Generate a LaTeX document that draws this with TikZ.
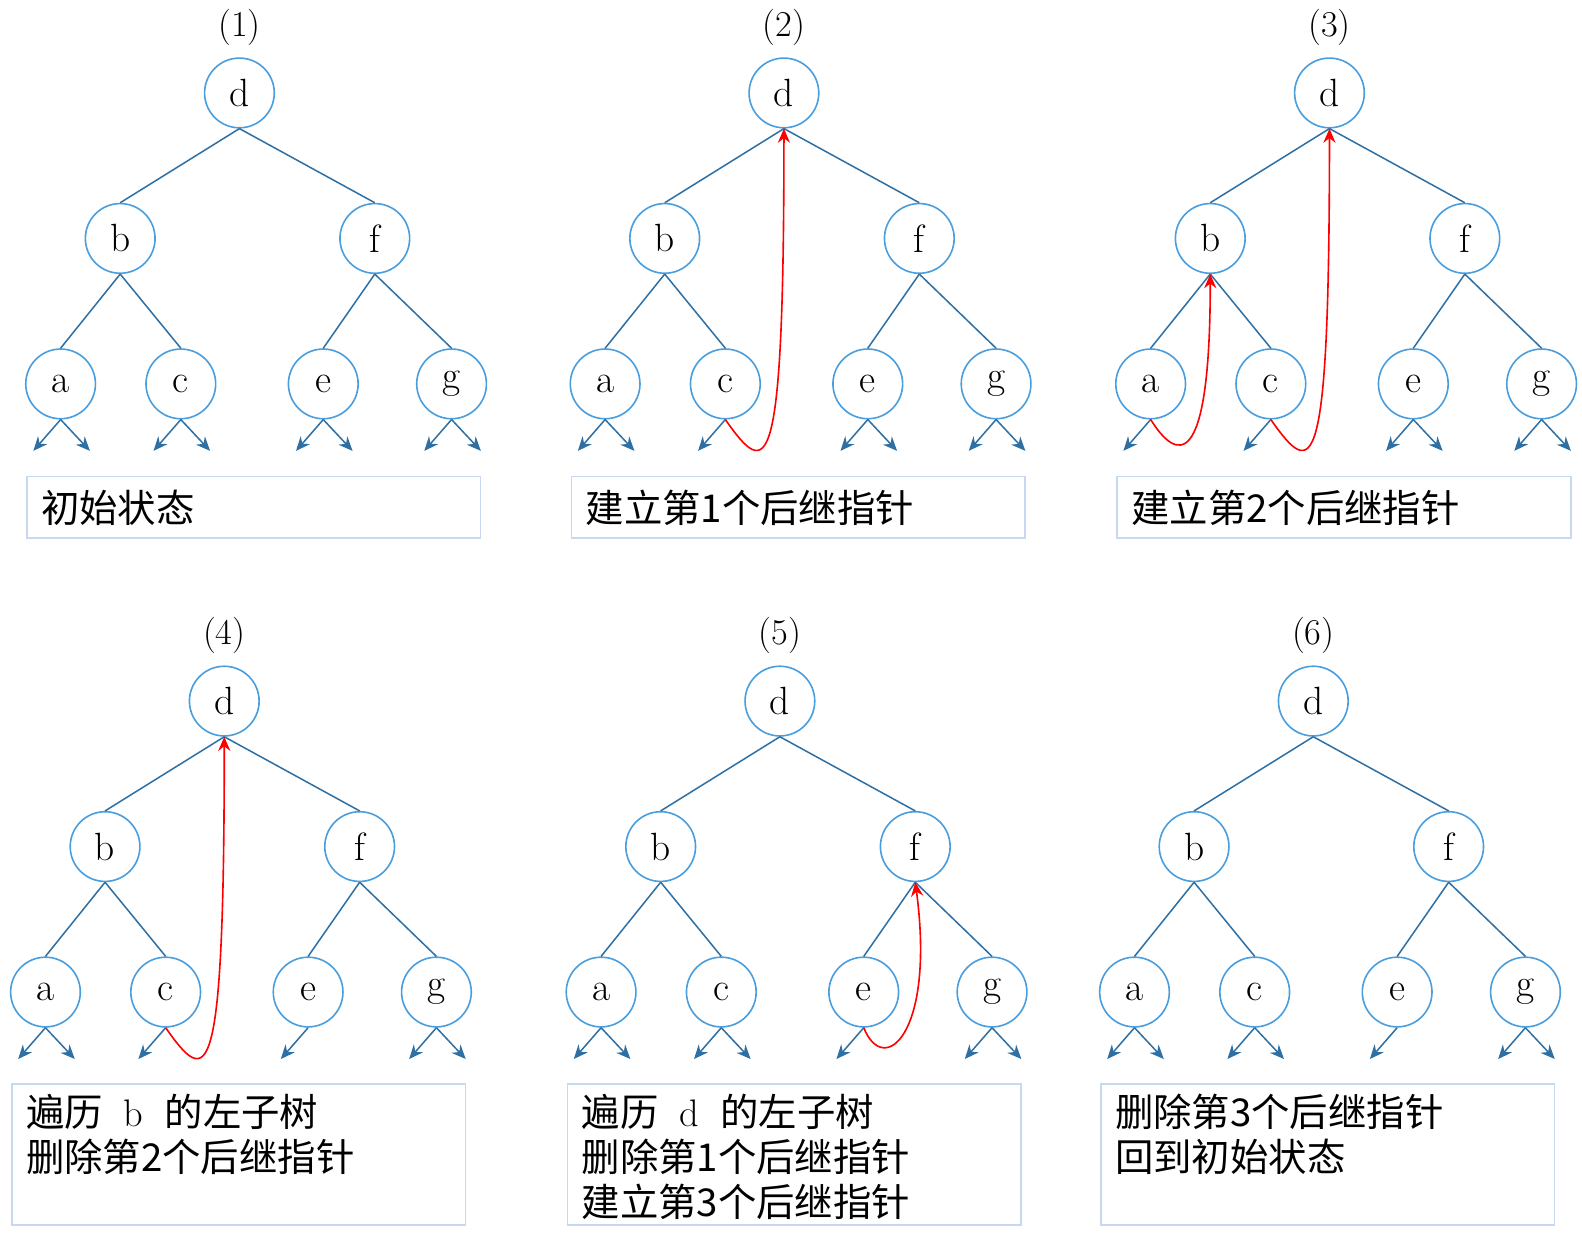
\documentclass[tikz,border=0pt]{standalone}
\usepackage{fontspec}
\usepackage{tikz}
\usetikzlibrary{arrows.meta}
\newfontfamily\cjk{Noto Sans CJK SC}
\definecolor{edgeblue}{RGB}{46,112,163}
\definecolor{ringblue}{RGB}{74,158,222}
\definecolor{boxblue}{RGB}{198,217,240}

% one tree: #1 = name prefix, #2 = step label
\newcommand{\bintree}[2]{
  \node[tnode] (#1d) at (0,0) {d};
  \node[tnode] (#1b) at (-118,144) {b};
  \node[tnode] (#1f) at (134,144) {f};
  \node[tnode] (#1a) at (-177,288) {a};
  \node[tnode] (#1c) at (-58,288) {c};
  \node[tnode] (#1e) at (83,288) {e};
  \node[tnode] (#1g) at (210,288) {g};
  \node[steplabel] (#1t) at (0,-65) {#2};
  \draw[tedge] (#1d.south) -- (#1b.north);
  \draw[tedge] (#1d.south) -- (#1f.north);
  \draw[tedge] (#1b.south) -- (#1a.north);
  \draw[tedge] (#1b.south) -- (#1c.north);
  \draw[tedge] (#1f.south) -- (#1e.north);
  \draw[tedge] (#1f.south) -- (#1g.north);
  % free ends of the empty child pointers
  \foreach \leaf in {a,c,e,g}
    \path (#1\leaf.south) ++(-27,31) coordinate (#1\leaf-l)
          (#1\leaf.south) ++(29,31) coordinate (#1\leaf-r);
}

\begin{document}
\begin{tikzpicture}[x=0.5pt,y=-0.5pt,>={Stealth[length=7pt,width=6pt]},
  tnode/.style={circle,draw=ringblue,line width=0.8pt,minimum size=34.5pt,
    inner sep=0pt,font=\fontsize{19.5}{22}\selectfont},
  steplabel/.style={font=\fontsize{18}{21}\selectfont},
  tedge/.style={draw=edgeblue,line width=0.75pt},
  nil/.style={->,draw=edgeblue,line width=0.75pt},
  thread/.style={->,draw=red,line width=0.8pt},
  descbox/.style={draw=boxblue,line width=0.8pt,anchor=north west,
    inner xsep=7pt,inner ysep=5pt,
    font=\cjk\fontsize{19}{22.25}\selectfont}]

  \useasboundingbox (0,0) rectangle (1566,1220);

  % (1)
  \begin{scope}[shift={(237,92)}]
    \bintree{p1}{(1)}
    \foreach \leaf/\side in {a/l,a/r,c/l,c/r,e/l,e/r,g/l,g/r}
      \draw[nil] (p1\leaf.south) -- (p1\leaf-\side);
    \node[descbox] (p1box) at (-211,379)
      {\parbox[c][20.5pt][c]{210.5pt}{初始状态}};
  \end{scope}

  % (2)
  \begin{scope}[shift={(776,92)}]
    \bintree{p2}{(2)}
    \foreach \leaf/\side in {a/l,a/r,c/l,e/l,e/r,g/l,g/r}
      \draw[nil] (p2\leaf.south) -- (p2\leaf-\side);
    \draw[thread] (p2c.south) .. controls +(42,60) and +(0,350) .. (p2d.south);
    \node[descbox] (p2box) at (-211,379)
      {\parbox[c][20.5pt][c]{210.5pt}{建立第1个后继指针}};
  \end{scope}

  % (3)
  \begin{scope}[shift={(1316,92)}]
    \bintree{p3}{(3)}
    \foreach \leaf/\side in {a/l,c/l,e/l,e/r,g/l,g/r}
      \draw[nil] (p3\leaf.south) -- (p3\leaf-\side);
    \draw[thread] (p3a.south) .. controls +(25,40) and +(0,200) .. (p3b.south);
    \draw[thread] (p3c.south) .. controls +(42,60) and +(0,350) .. (p3d.south);
    \node[descbox] (p3box) at (-211,379)
      {\parbox[c][20.5pt][c]{210.5pt}{建立第2个后继指针}};
  \end{scope}

  % (4)
  \begin{scope}[shift={(222,694)}]
    \bintree{p4}{(4)}
    \foreach \leaf/\side in {a/l,a/r,c/l,e/l,g/l,g/r}
      \draw[nil] (p4\leaf.south) -- (p4\leaf-\side);
    \draw[thread] (p4c.south) .. controls +(42,60) and +(0,350) .. (p4d.south);
    \node[descbox] (p4box) at (-211,378)
      {\parbox[c][60pt][t]{210.5pt}{遍历\hspace{0.55em}{\normalfont b}\hspace{0.55em}的左子树\\
        删除第2个后继指针}};
  \end{scope}

  % (5)
  \begin{scope}[shift={(772,694)}]
    \bintree{p5}{(5)}
    \foreach \leaf/\side in {a/l,a/r,c/l,c/r,e/l,g/l,g/r}
      \draw[nil] (p5\leaf.south) -- (p5\leaf-\side);
    \draw[thread] (p5e.south) .. controls +(20,50) and +(20,150) .. (p5f.south);
    \node[descbox] (p5box) at (-211,378)
      {\parbox[c][60pt][t]{210.5pt}{遍历\hspace{0.55em}{\normalfont d}\hspace{0.55em}的左子树\\
        删除第1个后继指针\\
        建立第3个后继指针}};
  \end{scope}

  % (6)
  \begin{scope}[shift={(1300,694)}]
    \bintree{p6}{(6)}
    \foreach \leaf/\side in {a/l,a/r,c/l,c/r,e/l,g/l,g/r}
      \draw[nil] (p6\leaf.south) -- (p6\leaf-\side);
    \node[descbox] (p6box) at (-211,378)
      {\parbox[c][60pt][t]{210.5pt}{删除第3个后继指针\\
        回到初始状态}};
  \end{scope}
\end{tikzpicture}
\end{document}
